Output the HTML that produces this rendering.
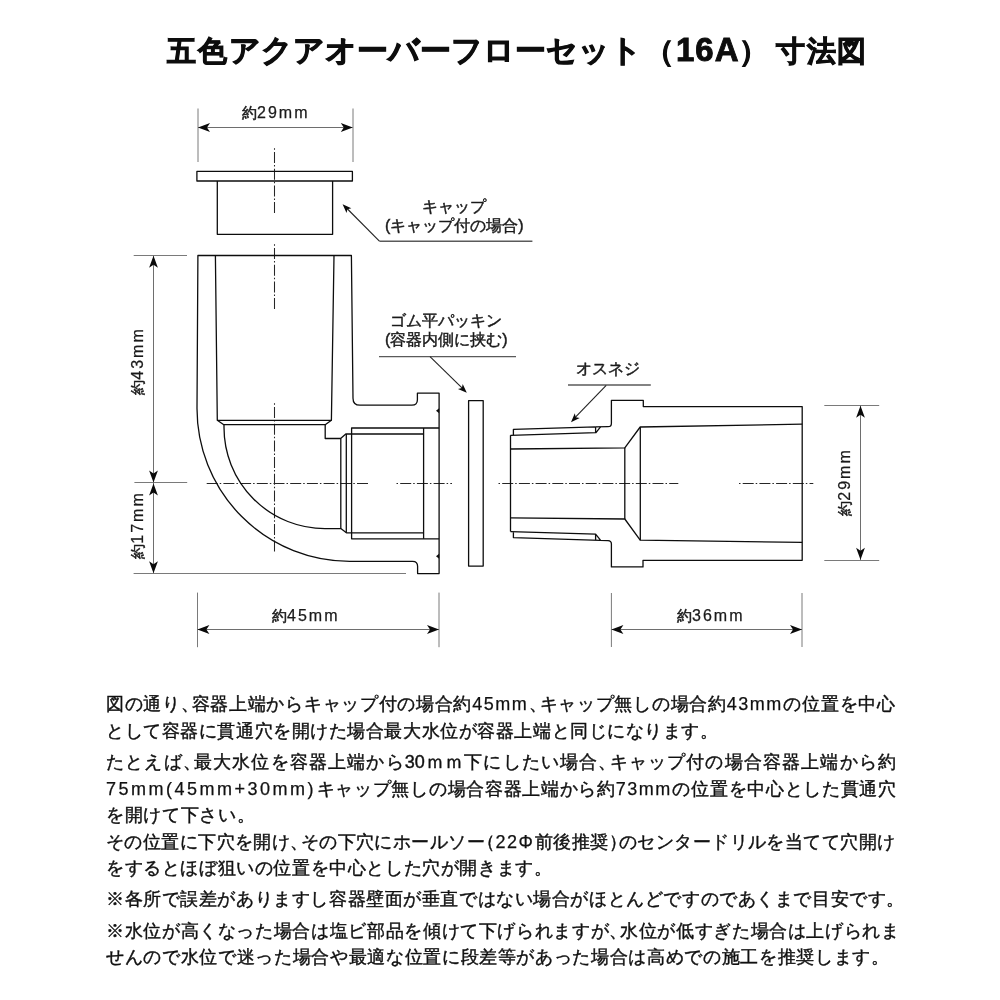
<!DOCTYPE html>
<html><head><meta charset="utf-8">
<style>
html,body{margin:0;padding:0;background:#fff;}
body{width:1000px;height:1000px;position:relative;overflow:hidden;filter:grayscale(1);font-family:"Liberation Sans",sans-serif;color:#111;}
.t{position:absolute;white-space:nowrap;line-height:1;}
#title{left:167px;top:32.5px;font-size:29px;letter-spacing:1.8px;font-weight:bold;color:#0d0d0d;-webkit-text-stroke:0.9px #0d0d0d;}
#title .n{font-size:33px;letter-spacing:1px;}
#title .k{font-size:31px;letter-spacing:0px;}
.lbl{font-size:16px;color:#1a1a1a;-webkit-text-stroke:0.45px #1a1a1a;}
.dim{font-size:15px;color:#1a1a1a;-webkit-text-stroke:0.5px #1a1a1a;}
.dim .n{font-size:16px;letter-spacing:2px;-webkit-text-stroke-width:0.25px;}
.ln{position:absolute;left:106px;font-size:18px;line-height:18px;white-space:nowrap;color:#111;-webkit-text-stroke:0.42px #111;text-align:justify;text-align-last:justify;}
svg{position:absolute;left:0;top:0;}
.c{letter-spacing:-8px;}
.o{margin-left:-8px;}
.L{letter-spacing:1.5px;-webkit-text-stroke-width:0.25px;}
.L2{letter-spacing:2.5px;-webkit-text-stroke-width:0.25px;}
</style></head><body>
<svg width="1000" height="1000" viewBox="0 0 1000 1000">
<defs>
<path id="ah" d="M0,0 L-12,-4.4 L-9,0 L-12,4.4 Z"/>
<path id="as" d="M0,0 L-9,-3.4 L-6.8,0 L-9,3.4 Z"/>
</defs>
<!-- extension lines -->
<g stroke="#7a7a7a" stroke-width="1" fill="none">
<line x1="198" y1="108.5" x2="198" y2="162"/>
<line x1="353" y1="108.5" x2="353" y2="162"/>
<line x1="133.7" y1="255.5" x2="187" y2="255.5"/>
<line x1="134.4" y1="482.5" x2="187.2" y2="482.5"/>
<line x1="133.6" y1="573.5" x2="406" y2="573.5"/>
<line x1="197.5" y1="592.6" x2="197.5" y2="647.2"/>
<line x1="439" y1="592.6" x2="439" y2="647.2"/>
<line x1="611.4" y1="593" x2="611.4" y2="647"/>
<line x1="802" y1="593" x2="802" y2="647"/>
<line x1="824.3" y1="405.5" x2="879.2" y2="405.5"/>
<line x1="824.3" y1="560.5" x2="879.2" y2="560.5"/>
</g>
<!-- dimension lines -->
<g stroke="#6e6e6e" stroke-width="1" fill="none">
<line x1="198" y1="127.5" x2="352.5" y2="127.5"/>
<line x1="153.5" y1="255.6" x2="153.5" y2="573.3"/>
<line x1="197.4" y1="629.5" x2="439" y2="629.5"/>
<line x1="611.4" y1="629.5" x2="802" y2="629.5"/>
<line x1="860.5" y1="405.3" x2="860.5" y2="560.1"/>
</g>
<g fill="#0a0a0a">
<use href="#ah" transform="translate(198,127.5) rotate(180)"/>
<use href="#ah" transform="translate(352.8,127.5)"/>
<use href="#ah" transform="translate(153.5,255.8) rotate(-90)"/>
<use href="#ah" transform="translate(153.5,482.4) rotate(90)"/>
<use href="#ah" transform="translate(153.5,483.4) rotate(-90)"/>
<use href="#ah" transform="translate(153.5,573.3) rotate(90)"/>
<use href="#ah" transform="translate(197.4,629.5) rotate(180)"/>
<use href="#ah" transform="translate(439,629.5)"/>
<use href="#ah" transform="translate(611.4,629.5) rotate(180)"/>
<use href="#ah" transform="translate(802,629.5)"/>
<use href="#ah" transform="translate(860.5,405.8) rotate(-90)"/>
<use href="#ah" transform="translate(860.5,559.8) rotate(90)"/>
</g>
<!-- leaders -->
<g stroke="#5a5a5a" stroke-width="1.4" fill="none">
<line x1="379.4" y1="241.2" x2="532.4" y2="241.2"/>
<line x1="379" y1="356.6" x2="516" y2="356.6"/>
<line x1="568" y1="385" x2="650.8" y2="385"/>
</g>
<g stroke="#222" stroke-width="1.1" fill="none">
<line x1="379.4" y1="241.2" x2="346" y2="207.5"/>
<line x1="430" y1="356.6" x2="463" y2="388.8"/>
<line x1="606.2" y1="385.3" x2="575" y2="417.6"/>
</g>
<g fill="#0a0a0a">
<use href="#as" transform="translate(342.6,204.3) rotate(225.3)"/>
<use href="#as" transform="translate(466.8,392.8) rotate(44)"/>
<use href="#as" transform="translate(571,422.2) rotate(134)"/>
</g>
<!-- center lines -->
<g stroke="#262626" stroke-width="1.05" fill="none" stroke-dasharray="1.5 2.2 11 2">
<line x1="274.5" y1="148.3" x2="274.5" y2="214"/>
<line x1="274.5" y1="244.3" x2="274.5" y2="309.2"/>
<line x1="274.5" y1="403.3" x2="274.5" y2="551.5"/>
<line x1="206.7" y1="483.5" x2="368.8" y2="483.5" stroke-dashoffset="3.7"/>
<line x1="396.5" y1="483.5" x2="452" y2="483.5"/>
<line x1="498.5" y1="483.5" x2="678.3" y2="483.5"/>
<line x1="739" y1="483.5" x2="813.3" y2="483.5"/>
</g>
<!-- main drawing -->
<g stroke="#0d0d0d" stroke-width="1.3" fill="none" stroke-linejoin="round">
<!-- cap -->
<rect x="196.9" y="171.4" width="155.5" height="9.6"/>
<path d="M217.3,181 V234.3 H332.6 V181"/>
<!-- elbow outer -->
<path d="M197.9,255.5 L197,408.6 A152.7,152.7 0 0 0 349.7,561.3 L412.6,561.3 Q417.6,561.3 417.6,566.3 L417.6,573.6 L439.1,573.6 L439.1,393.2 L417.4,393.2 L417.4,399.7 Q417.4,405.2 411.9,405.2 L360,405.2 Q353,405.2 353,398.2 L351.4,255.5 Z"/>
<!-- socket -->
<path d="M215.4,255.5 L217.3,420.3 L331.4,420.3 L334,255.5"/>
<path d="M217.3,420.3 L223.8,424.7 L325.2,424.7 L331.4,420.3"/>
<path d="M224,424.7 L224,427.5 A101,101 0 0 0 325,528.6 L340.8,528.6 L346.4,532.8 L423.6,532.8"/>
<path d="M325.2,424.7 L325.2,438.5 L340.6,438.5 L345.8,434 L423.6,434"/>
<line x1="340.8" y1="438.5" x2="340.8" y2="528.6"/>
<line x1="346.3" y1="434" x2="346.3" y2="532.8"/>
<path d="M439.1,428 L351.6,428 L351.6,538.8 L439.1,538.8"/>
<line x1="423.6" y1="428" x2="423.6" y2="538.8"/>
<!-- packing -->
<rect x="468.6" y="400.6" width="14.6" height="165.5"/>
<!-- male thread piece -->
<path d="M595.6,426.8 L513.4,429.4 L513.4,435.3 M510.5,435.3 L510.5,531.6 M510.5,435.3 L596,432.7 L600.5,426.8 M595.6,426.8 L595.6,432.7"/>
<path d="M510.5,531.6 L595.6,534.2 L600.5,540.2 M595.6,534.2 L595.6,540.2 M513.4,531.6 L513.4,537.6 L608,540.6 Q611.4,540.8 611.4,544 L611.4,566.9 L643,566.9 L643,560.3 L802.2,560.3 L802.2,406.6 L643.3,406.6 L643.3,400.4 L611.4,400.4 L611.4,423.4 Q611.4,426.6 608,426.6 L595.6,426.8"/>
<path d="M510.5,449 L624.8,447.8 L640.2,427 L802.2,424.2"/>
<path d="M510.5,517.8 L624.8,519 L640.2,540.2 L802.2,542.4"/>
<line x1="624.8" y1="447.8" x2="624.8" y2="519"/>
<line x1="640.3" y1="427" x2="640.3" y2="540.2"/>
</g>
<!-- notches -->
<g fill="#0d0d0d">
<path d="M439.1,408.2 L436,410.7 L439.1,413.2 Z"/>
<path d="M439.1,553.7 L436,556.2 L439.1,558.7 Z"/>
</g>
</svg>

<div id="title" class="t">五色<span class="k">アクアオーバーフローセット</span><span style="margin-left:3.5px">（</span><span class="n">16A</span>）<span style="margin-left:5.5px">寸法図</span></div>

<div class="t dim" style="left:242px;top:105px;">約<span class="n">29mm</span></div>
<div class="t dim" style="left:272px;top:608px;">約<span class="n">45mm</span></div>
<div class="t dim" style="left:677px;top:608px;">約<span class="n">36mm</span></div>
<div class="t dim" style="left:138px;top:361px;transform:translate(-50%,-50%) rotate(-90deg);">約<span class="n">43mm</span></div>
<div class="t dim" style="left:137.5px;top:524.5px;transform:translate(-50%,-50%) rotate(-90deg);">約<span class="n">17mm</span></div>
<div class="t dim" style="left:845px;top:482px;transform:translate(-50%,-50%) rotate(-90deg);">約<span class="n">29mm</span></div>

<div class="t lbl" style="left:422px;top:199px;">キャップ</div>
<div class="t lbl" style="left:385px;top:217.5px;">(キャップ付の場合)</div>
<div class="t lbl" style="left:390px;top:313px;">ゴム平パッキン</div>
<div class="t lbl" style="left:385px;top:332px;">(容器内側に挟む)</div>
<div class="t lbl" style="left:576px;top:361px;">オスネジ</div>

<div class="ln" id="l1" style="top:695px;width:789px;">図の通り<span class="c">、</span>容器上端からキャップ付の場合約<span class="L">45mm</span><span class="c">、</span>キャップ無しの場合約<span class="L">43mm</span>の位置を中心</div>
<div class="ln" id="l2" style="top:722px;width:612px;">として容器に貫通穴を開けた場合最大水位が容器上端と同じになります。</div>
<div class="ln" id="l3" style="top:753px;width:790px;">たとえば<span class="c">、</span>最大水位を容器上端から30ｍｍ下にしたい場合<span class="c">、</span>キャップ付の場合容器上端から約</div>
<div class="ln" id="l4" style="top:780px;width:790px;"><span class="L2">75mm(45mm+30mm)</span>キャップ無しの場合容器上端から約<span class="L">73mm</span>の位置を中心とした貫通穴</div>
<div class="ln" id="l5" style="top:806px;width:148.7px;">を開けて下さい。</div>
<div class="ln" id="l6" style="top:833px;width:789px;">その位置に下穴を開け<span class="c">、</span>その下穴にホールソー<span class="o">（</span><span class="L">22Φ</span>前後推奨<span class="c">）</span>のセンタードリルを当てて穴開け</div>
<div class="ln" id="l7" style="top:859px;width:445.8px;">をするとほぼ狙いの位置を中心とした穴が開きます。</div>
<div class="ln" id="l8" style="top:890px;width:798.3px;">※各所で誤差がありますし容器壁面が垂直ではない場合がほとんどですのであくまで目安です。</div>
<div class="ln" id="l9" style="top:922px;width:793px;">※水位が高くなった場合は塩ビ部品を傾けて下げられますが<span class="c">、</span>水位が低すぎた場合は上げられま</div>
<div class="ln" id="l10" style="top:948px;width:783px;">せんので水位で迷った場合や最適な位置に段差等があった場合は高めでの施工を推奨します。</div>
</body></html>
